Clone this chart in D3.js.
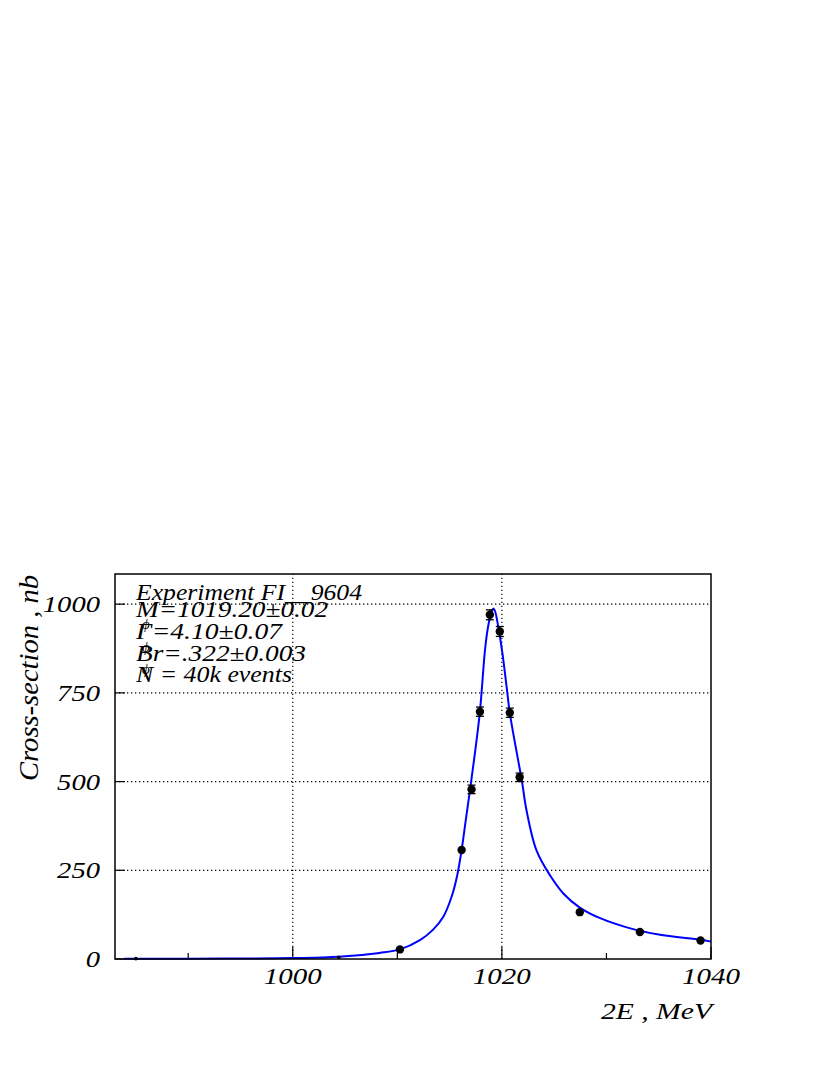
<!DOCTYPE html>
<html>
<head>
<meta charset="utf-8">
<script src="https://cdn.jsdelivr.net/npm/d3@7"></script>
<style>
  body { margin: 0; background: #fff; }
  text { font-family: "Liberation Serif", "Times New Roman", serif; font-style: italic; fill: #000; }
</style>
</head>
<body>
<div id="chart"></div>
<script>
// measured points: energy (MeV), cross-section (nb), error (nb)
var energy = [985.0, 1004.4, 1010.25, 1016.15, 1017.1, 1017.9, 1018.85, 1019.8, 1020.76, 1021.7, 1027.45, 1033.2, 1039.0];
var sigma  = [1, 5, 27, 307, 478, 697, 970, 923, 694, 512, 132, 76, 52];
var errs   = [0, 1, 3, 8, 12, 13, 14, 14, 13, 12, 4, 3, 2];

// fit curve
var fitE = [983.9, 990, 995, 1000, 1004.4, 1008.3, 1010.25, 1012.2, 1013.4, 1014.4, 1015.2, 1015.7, 1016.15, 1016.55, 1016.95, 1017.4, 1017.9, 1018.4, 1018.7, 1019.05, 1019.2, 1019.35, 1019.65, 1020.05, 1020.45, 1020.76, 1021.55, 1021.9, 1022.35, 1023.3, 1024.6, 1025.9, 1027.45, 1029.4, 1032.2, 1035, 1039, 1040];
var fitS = [0.5, 1, 1.5, 2.5, 6, 17, 27, 54, 82, 119, 176, 232, 307, 392, 476, 575, 697, 875, 940, 982, 988, 980, 937, 862, 768, 693, 561, 505, 420, 307, 236, 184, 145, 115, 87, 69, 54, 49];

var xTicksMajor = [1000, 1020, 1040];
var xTicksMinor = [990, 1010, 1030];
var yTicks = [0, 250, 500, 750, 1000];

var infoLines = ["Experiment FI__9604", "M=1019.20\u00b10.02", "\u0393=4.10\u00b10.07", "Br=.322\u00b10.003", "N = 40k events"];

var width = 830, height = 1075;
var margin = {top: 574, right: 119, bottom: 116, left: 115};
var w = width - margin.left - margin.right,
    h = height - margin.top - margin.bottom;

var svg = d3.select("#chart").append("svg")
    .attr("width", width)
    .attr("height", height);

var x = d3.scaleLinear().domain([983, 1040]).range([margin.left, margin.left + w]);
var y = d3.scaleLinear().domain([0, 1085]).range([margin.top + h, margin.top]);

// grid
svg.selectAll(".vgrid").data([1000, 1020]).enter().append("line")
    .attr("x1", d => x(d)).attr("x2", d => x(d))
    .attr("y1", y(0)).attr("y2", margin.top)
    .attr("stroke", "#000").attr("stroke-width", 1.2).attr("stroke-dasharray", "1.3,2.7");
svg.selectAll(".hgrid").data(yTicks.slice(1)).enter().append("line")
    .attr("x1", margin.left).attr("x2", margin.left + w)
    .attr("y1", d => y(d)).attr("y2", d => y(d))
    .attr("stroke", "#000").attr("stroke-width", 1.2).attr("stroke-dasharray", "1.3,2.7");

// ticks
svg.selectAll(".xmaj").data(xTicksMajor).enter().append("line")
    .attr("x1", d => x(d)).attr("x2", d => x(d))
    .attr("y1", y(0)).attr("y2", y(0) - 12)
    .attr("stroke", "#000").attr("stroke-width", 1.2);
svg.selectAll(".xmin").data(xTicksMinor).enter().append("line")
    .attr("x1", d => x(d)).attr("x2", d => x(d))
    .attr("y1", y(0)).attr("y2", y(0) - 6)
    .attr("stroke", "#000").attr("stroke-width", 1.2);
svg.selectAll(".ytk").data(yTicks).enter().append("line")
    .attr("x1", margin.left).attr("x2", margin.left + 10)
    .attr("y1", d => y(d)).attr("y2", d => y(d))
    .attr("stroke", "#000").attr("stroke-width", 1.2);

// tick labels
svg.selectAll(".xlab").data(xTicksMajor).enter().append("text")
    .attr("x", d => x(d) - 29)
    .attr("y", 984)
    .attr("font-size", 23)
    .attr("textLength", 58).attr("lengthAdjust", "spacingAndGlyphs")
    .text(d => d);
svg.selectAll(".ylab").data(yTicks).enter().append("text")
    .attr("x", d => 100 - String(d).length * 14.3)
    .attr("y", d => y(d) + 8)
    .attr("font-size", 23)
    .attr("textLength", d => String(d).length * 14.3).attr("lengthAdjust", "spacingAndGlyphs")
    .text(d => d);

// axis titles
svg.append("text")
    .attr("x", 601).attr("y", 1019)
    .attr("font-size", 24)
    .attr("textLength", 111).attr("lengthAdjust", "spacingAndGlyphs")
    .text("2E , MeV");
svg.append("text")
    .attr("transform", "translate(38,781) rotate(-90)")
    .attr("font-size", 27)
    .attr("textLength", 206).attr("lengthAdjust", "spacingAndGlyphs")
    .text("Cross-section , nb");

// fit curve
var line = d3.line()
    .x(d => x(d[0]))
    .y(d => y(d[1]))
    .curve(d3.curveCatmullRom.alpha(0.5));
svg.append("path")
    .datum(d3.zip(fitE, fitS))
    .attr("d", line)
    .attr("fill", "none")
    .attr("stroke", "#0000ff")
    .attr("stroke-width", 2);

// points with error bars
var pts = d3.zip(energy, sigma, errs);
var eb = svg.append("g");
pts.filter(d => y(d[1] - d[2]) - y(d[1] + d[2]) > 7).forEach(function(d) {
    var cx = x(d[0]);
    eb.append("line").attr("x1", cx).attr("x2", cx)
        .attr("y1", y(d[1] - d[2])).attr("y2", y(d[1] + d[2]))
        .attr("stroke", "#000").attr("stroke-width", 1.3);
    [d[1] - d[2], d[1] + d[2]].forEach(function(v) {
        eb.append("line").attr("x1", cx - 4).attr("x2", cx + 4)
            .attr("y1", y(v)).attr("y2", y(v))
            .attr("stroke", "#000").attr("stroke-width", 1.3);
    });
});
svg.selectAll(".pt").data(pts).enter().append("circle")
    .attr("cx", d => x(d[0]))
    .attr("cy", d => y(d[1]))
    .attr("r", d => d[1] < 10 ? 1.8 : 4.2)
    .attr("fill", "#000");

// info box text
var info = svg.append("g");
var infoY = [600, 617, 639, 661, 682];
var infoLen = [226, 192, 146, 170, 156];
info.selectAll("text").data(infoLines).enter().append("text")
    .attr("x", 136)
    .attr("y", (d, i) => infoY[i])
    .attr("font-size", 23)
    .attr("textLength", (d, i) => infoLen[i]).attr("lengthAdjust", "spacingAndGlyphs")
    .text(d => d);
// subscript phi under M, Gamma, Br
info.selectAll(".phi").data([629, 652, 674]).enter().append("text")
    .attr("x", 142)
    .attr("y", d => d)
    .attr("font-size", 15)
    .attr("font-style", "normal")
    .text("\u03d5");

// frame
svg.append("rect")
    .attr("x", margin.left).attr("y", margin.top)
    .attr("width", w).attr("height", h)
    .attr("fill", "none")
    .attr("stroke", "#000")
    .attr("stroke-width", 1.5);
</script>
</body>
</html>
